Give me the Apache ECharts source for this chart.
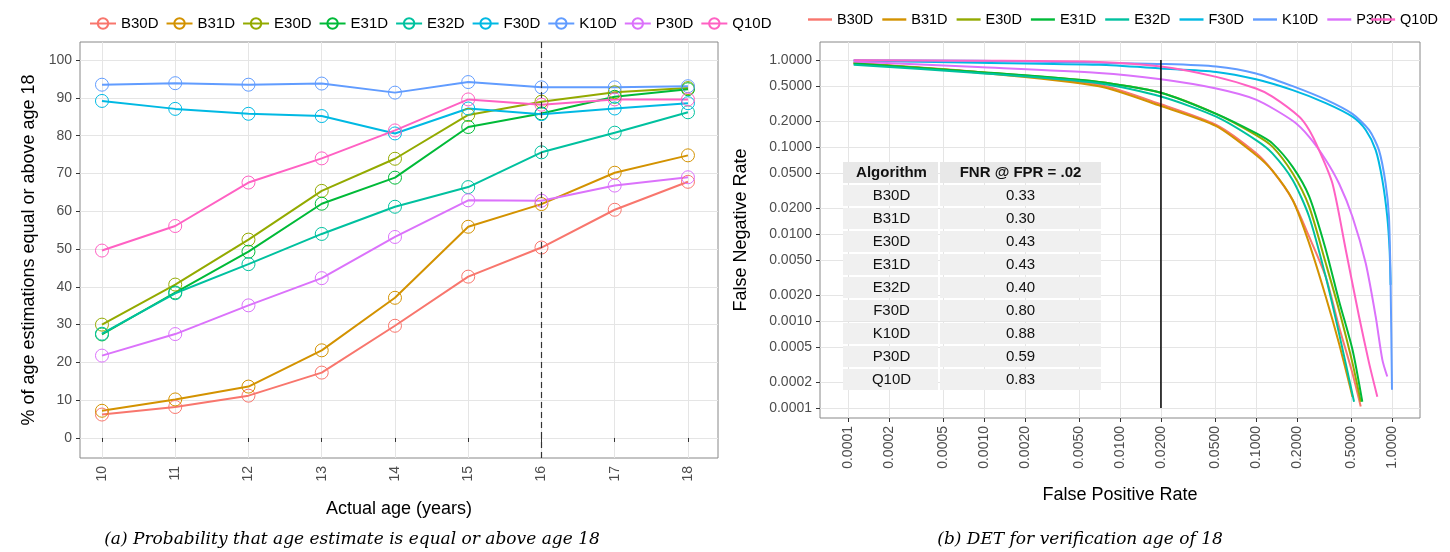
<!DOCTYPE html>
<html>
<head>
<meta charset="utf-8">
<script src="https://cdn.jsdelivr.net/npm/echarts@6/dist/echarts.min.js"></script>
<style>
  html, body { margin: 0; padding: 0; background: #fff; }
  #chart { width: 1450px; height: 552px; }
</style>
</head>
<body>
<div id="chart"></div>
<script>
document.addEventListener("DOMContentLoaded", () => {
    // algorithms and their ggplot colours
    const algos = ['B30D', 'B31D', 'E30D', 'E31D', 'E32D', 'F30D', 'K10D', 'P30D', 'Q10D'];
    const colors = ['#F8766D', '#D39200', '#93AA00', '#00BA38', '#00C19F', '#00B9E3', '#619CFF', '#DB72FB', '#FF61C3'];

    // (a) % of age estimations >= 18, by actual age
    const ages = [10, 11, 12, 13, 14, 15, 16, 17, 18];
    const pctB30D = [6.2, 8.2, 11.2, 17.3, 29.7, 42.7, 50.4, 60.4, 67.8];
    const pctB31D = [7.2, 10.2, 13.6, 23.2, 37.1, 55.9, 61.9, 70.2, 74.8];
    const pctE30D = [30.0, 40.6, 52.5, 65.4, 73.9, 85.5, 89.0, 91.5, 92.6];
    const pctE31D = [27.4, 38.5, 49.3, 62.0, 68.9, 82.3, 85.9, 90.3, 92.3];
    const pctE32D = [27.6, 38.3, 46.0, 54.0, 61.2, 66.4, 75.6, 80.8, 86.2];
    const pctF30D = [89.2, 87.1, 85.8, 85.2, 80.6, 87.2, 85.7, 87.2, 88.6];
    const pctK10D = [93.5, 93.9, 93.5, 93.8, 91.4, 94.2, 92.8, 92.8, 93.1];
    const pctP30D = [21.8, 27.5, 35.1, 42.3, 53.2, 62.9, 62.8, 66.8, 69.0];
    const pctQ10D = [49.6, 56.1, 67.6, 74.0, 81.4, 89.6, 88.2, 89.6, 89.6];
    const pct = [pctB30D, pctB31D, pctE30D, pctE31D, pctE32D, pctF30D, pctK10D, pctP30D, pctQ10D];
    const yTicksA = [0, 10, 20, 30, 40, 50, 60, 70, 80, 90, 100];

    // (b) DET curves: [FPR, FNR]
    const detB30D = [[0.00011, 0.93], [0.0009, 0.73], [0.007, 0.52], [0.02, 0.31], [0.051, 0.179], [0.1, 0.085], [0.132, 0.0534], [0.186, 0.0246], [0.246, 0.0093], [0.326, 0.0032], [0.408, 0.00086], [0.512, 0.00025], [0.589, 0.000104]];
    const detB31D = [[0.00011, 0.92], [0.0009, 0.72], [0.007, 0.50], [0.02, 0.296], [0.051, 0.174], [0.1, 0.081], [0.132, 0.0534], [0.186, 0.0246], [0.246, 0.0078], [0.326, 0.0019], [0.408, 0.00055], [0.512, 0.000135]];
    const detE30D = [[0.00011, 0.92], [0.0009, 0.73], [0.007, 0.56], [0.02, 0.42], [0.051, 0.24], [0.1, 0.137], [0.132, 0.101], [0.186, 0.0498], [0.246, 0.0206], [0.326, 0.0046], [0.408, 0.00134], [0.512, 0.00033], [0.589, 0.000118]];
    const detE31D = [[0.00011, 0.91], [0.0009, 0.73], [0.007, 0.56], [0.02, 0.42], [0.051, 0.24], [0.1, 0.144], [0.132, 0.110], [0.186, 0.059], [0.246, 0.027], [0.326, 0.0066], [0.408, 0.0017], [0.512, 0.00047], [0.605, 0.000118]];
    const detE32D = [[0.00011, 0.88], [0.0009, 0.71], [0.007, 0.54], [0.02, 0.38], [0.051, 0.223], [0.1, 0.12], [0.132, 0.0846], [0.186, 0.0418], [0.246, 0.0158], [0.326, 0.0032], [0.408, 0.00072], [0.526, 0.000118]];
    const detF30D = [[0.00011, 0.98], [0.0009, 0.93], [0.007, 0.88], [0.02, 0.80], [0.051, 0.73], [0.1, 0.60], [0.186, 0.45], [0.326, 0.32], [0.512, 0.223], [0.641, 0.157], [0.759, 0.092], [0.849, 0.0418], [0.923, 0.0158], [0.96, 0.0066], [0.977, 0.0026]];
    const detK10D = [[0.00011, 0.99], [0.0009, 0.98], [0.007, 0.93], [0.02, 0.90], [0.051, 0.84], [0.1, 0.70], [0.186, 0.50], [0.326, 0.35], [0.512, 0.24], [0.678, 0.157], [0.802, 0.092], [0.898, 0.038], [0.95, 0.0158], [0.977, 0.0027], [1.0, 0.000162]];
    const detP30D = [[0.00011, 0.96], [0.0009, 0.83], [0.007, 0.71], [0.02, 0.60], [0.051, 0.47], [0.1, 0.35], [0.186, 0.20], [0.246, 0.131], [0.326, 0.071], [0.408, 0.038], [0.512, 0.0158], [0.641, 0.0046], [0.759, 0.00112], [0.849, 0.00036], [0.923, 0.00023]];
    const detQ10D = [[0.00011, 0.99], [0.0009, 0.98], [0.007, 0.95], [0.02, 0.84], [0.051, 0.64], [0.1, 0.47], [0.132, 0.38], [0.208, 0.223], [0.246, 0.157], [0.291, 0.092], [0.365, 0.038], [0.457, 0.0066], [0.573, 0.00112], [0.678, 0.00033], [0.78, 0.000135]];
    const det = [detB30D, detB31D, detE30D, detE31D, detE32D, detF30D, detK10D, detP30D, detQ10D];
    const fnrAt02 = ['0.33', '0.30', '0.43', '0.43', '0.40', '0.80', '0.88', '0.59', '0.83'];
    const logTicks = [0.0001, 0.0002, 0.0005, 0.001, 0.002, 0.005, 0.01, 0.02, 0.05, 0.1, 0.2, 0.5, 1];

    const font = 'Liberation Sans';
    const gridLine = { show: true, lineStyle: { color: '#e5e5e5', width: 1 } };
    const axisText = { color: '#4d4d4d', fontSize: 14, fontFamily: font };

    let series = [];
    algos.forEach((a, i) => {
        series.push({
            name: a, type: 'line', xAxisIndex: 0, yAxisIndex: 0,
            data: ages.map((x, k) => [x, pct[i][k]]),
            symbol: 'circle', symbolSize: 13,
            lineStyle: { width: 2, color: colors[i] },
            itemStyle: { color: 'rgba(255,255,255,0)', borderColor: colors[i], borderWidth: 1 },
            markLine: i === 0 ? {
                silent: true, symbol: 'none', label: { show: false },
                lineStyle: { type: [6, 4], color: '#333', width: 1.2 },
                data: [{ xAxis: 16 }]
            } : undefined
        });
    });
    algos.forEach((a, i) => {
        series.push({
            name: a + ' ', type: 'line', xAxisIndex: 1, yAxisIndex: 1,
            data: det[i], smooth: 0.25, showSymbol: false,
            lineStyle: { width: 2, color: colors[i] },
            itemStyle: { color: colors[i] }
        });
    });
    // threshold line at FPR = .02
    series.push({
        name: 'thr', type: 'line', xAxisIndex: 1, yAxisIndex: 1,
        data: [[0.02, 1], [0.02, 0.0001]], showSymbol: false,
        lineStyle: { color: '#000', width: 1.5 }, z: 5
    });

    // table for panel (b)
    const tx = 843, ty = 162, rh = 23, c1 = 97, c2 = 161;
    let table = [];
    for (let r = 0; r <= algos.length; r++) {
        const y = ty + r * rh;
        table.push({ type: 'rect', shape: { x: tx, y: y, width: c1 - 2, height: rh - 2 }, style: { fill: r === 0 ? '#e8e8e8' : '#f0f0f0' }, z: 20 });
        table.push({ type: 'rect', shape: { x: tx + c1, y: y, width: c2, height: rh - 2 }, style: { fill: r === 0 ? '#e8e8e8' : '#f0f0f0' }, z: 20 });
        const t1 = r === 0 ? 'Algorithm' : algos[r - 1];
        const t2 = r === 0 ? 'FNR @ FPR = .02' : fnrAt02[r - 1];
        const fw = r === 0 ? 'bold' : 'normal';
        table.push({ type: 'text', x: tx + c1 / 2, y: y + rh / 2 - 1, style: { text: t1, fill: '#111', font: fw + ' 15px ' + font, align: 'center', verticalAlign: 'middle' }, z: 21 });
        table.push({ type: 'text', x: tx + c1 + c2 / 2, y: y + rh / 2 - 1, style: { text: t2, fill: '#111', font: fw + ' 15px ' + font, align: 'center', verticalAlign: 'middle' }, z: 21 });
    }

    const lineIcon = 'path://M0,0 L10,0 L10,1 L0,1 Z';
    const detLegend = (names, pos) => Object.assign({
        data: names.map(a => ({ name: a + ' ', icon: lineIcon, itemStyle: { color: colors[algos.indexOf(a)] } })),
        top: 12, padding: 0, itemWidth: 24, itemHeight: 2.5, itemGap: 5,
        textStyle: { fontSize: 14.5, fontFamily: font, color: '#000' }
    }, pos);

    const chart = echarts.init(document.getElementById('chart'));
    chart.setOption({
        animation: false,
        legend: [{
            data: algos,
            left: 84, top: 11, itemWidth: 26, itemHeight: 13, itemGap: 7,
            textStyle: { fontSize: 15, fontFamily: font, color: '#000' }
        }, detLegend(algos.slice(0, 8), { left: 808 }), detLegend(algos.slice(8), { right: 8 })],
        grid: [
            { left: 80, top: 42, width: 638, height: 416, show: true, borderColor: '#888', borderWidth: 1 },
            { left: 820, top: 42, width: 600, height: 376, show: true, borderColor: '#888', borderWidth: 1 }
        ],
        xAxis: [{
            type: 'value', gridIndex: 0, min: 9.7, max: 18.41,
            name: 'Actual age (years)', nameLocation: 'middle', nameGap: 42,
            nameTextStyle: { fontSize: 18, fontFamily: font, color: '#000' },
            axisLine: { show: false },
            axisTick: { show: true, customValues: ages, length: 4, lineStyle: { color: '#333' } },
            axisLabel: Object.assign({ customValues: ages, rotate: 90 }, axisText),
            splitLine: gridLine
        }, {
            type: 'log', gridIndex: 1, logBase: 10, min: 6.22e-5, max: 1.607,
            name: 'False Positive Rate', nameLocation: 'middle', nameGap: 68,
            nameTextStyle: { fontSize: 18, fontFamily: font, color: '#000' },
            axisLine: { show: false },
            axisTick: { show: true, customValues: logTicks, length: 4, lineStyle: { color: '#333' } },
            axisLabel: Object.assign({ customValues: logTicks, rotate: 90, formatter: v => Number(v).toFixed(4) }, axisText),
            splitLine: gridLine
        }],
        yAxis: [{
            type: 'value', gridIndex: 0, min: -5.3, max: 104.8,
            name: '% of age estimations equal or above age 18', nameLocation: 'middle', nameGap: 42,
            nameTextStyle: { fontSize: 18, fontFamily: font, color: '#000' },
            axisLine: { show: false },
            axisTick: { show: true, customValues: yTicksA, length: 4, lineStyle: { color: '#333' } },
            axisLabel: Object.assign({ customValues: yTicksA }, axisText),
            splitLine: gridLine
        }, {
            type: 'log', gridIndex: 1, logBase: 10, min: 7.67e-5, max: 1.61,
            name: 'False Negative Rate', nameLocation: 'middle', nameGap: 70,
            nameTextStyle: { fontSize: 18, fontFamily: font, color: '#000' },
            axisLine: { show: false },
            axisTick: { show: true, customValues: logTicks, length: 4, lineStyle: { color: '#333' } },
            axisLabel: Object.assign({ customValues: logTicks, formatter: v => Number(v).toFixed(4) }, axisText),
            splitLine: gridLine
        }],
        series: series,
        graphic: table.concat([
            { type: 'text', x: 352, y: 540, style: { text: '(a) Probability that age estimate is equal or above age 18', font: 'italic 17px "DejaVu Serif"', fill: '#000', align: 'center', verticalAlign: 'middle' } },
            { type: 'text', x: 1080, y: 540, style: { text: '(b) DET for verification age of 18', font: 'italic 17px "DejaVu Serif"', fill: '#000', align: 'center', verticalAlign: 'middle' } }
        ])
    });
});
</script>
</body>
</html>
